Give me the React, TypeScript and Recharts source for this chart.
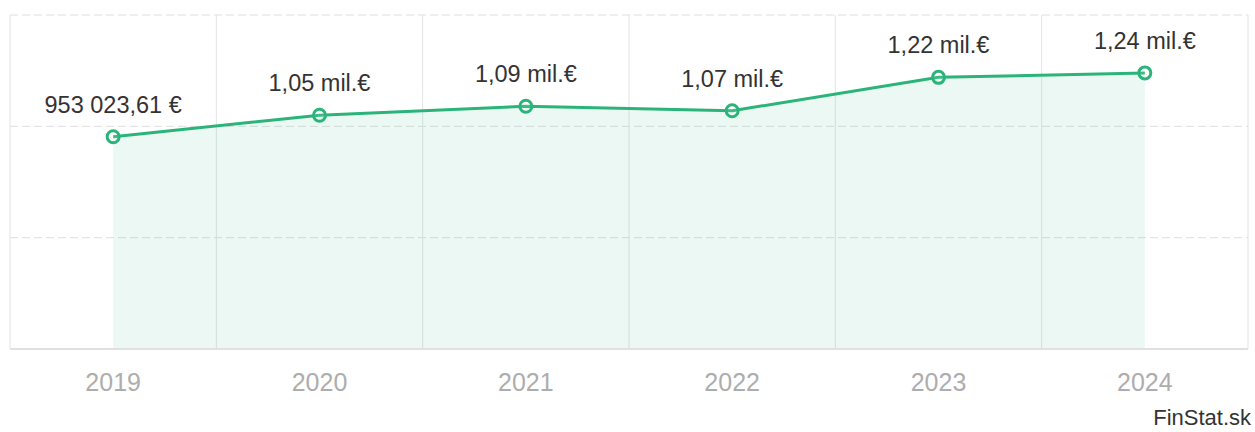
import { ComposedChart, Area, XAxis, YAxis, CartesianGrid, LabelList } from "recharts";

// Tržby podľa rokov (EUR)
const years = ["2019", "2020", "2021", "2022", "2023", "2024"];
const revenue = [953023.61, 1050000, 1090000, 1070000, 1220000, 1240000];
const yTicks = [0, 500000, 1000000, 1500000];

const GREEN = "#2bb47a";

const rows = years.map((year, i) => ({ year, value: revenue[i] }));

function formatEur(v: number) {
  if (v >= 1000000) {
    return (v / 1000000).toFixed(2).replace(".", ",") + " mil.€";
  }
  const [int, dec] = v.toFixed(2).split(".");
  const grouped = int.replace(/\B(?=(\d{3})+(?!\d))/g, " ");
  return grouped + "," + dec + " €";
}

// vertical lines on the band edges instead of the band centres
function bandEdges(props: any): number[] {
  const scale = props?.xAxis?.scale;
  if (scale) {
    const map = typeof scale === "function" ? scale : scale.map?.bind(scale);
    const bwFn = scale.bandwidth;
    if (map && typeof bwFn === "function") {
      const bw = bwFn.call(scale);
      const starts = years.map((y) => Number(map(y)));
      if (starts.every((s) => Number.isFinite(s))) {
        return [...starts, starts[starts.length - 1] + bw];
      }
    }
  }
  // fallback: split the plot width evenly into one band per year
  const off = props?.offset ?? {};
  const step = (off.width ?? 0) / years.length;
  return [...years.map((_, i) => off.left + i * step), off.left + off.width];
}

export default function App() {
  return (
    <div
      style={{
        position: "absolute",
        left: 0,
        top: 0,
        width: 1255,
        height: 432,
        background: "#fff",
        fontFamily: "'Liberation Sans', Arial, sans-serif",
      }}
    >
      <ComposedChart
        width={1255}
        height={432}
        data={rows}
        margin={{ top: 15, right: 7, bottom: 33, left: 10 }}
      >
        <CartesianGrid
          vertical={false}
          stroke="#dedede"
          strokeDasharray="8 4"
        />
        <CartesianGrid
          horizontal={false}
          verticalCoordinatesGenerator={bandEdges}
          stroke="#e3e3e3"
        />
        <XAxis
          dataKey="year"
          scale="band"
          axisLine={{ stroke: "#e0e0e0", strokeWidth: 2 }}
          tickLine={false}
          tickSize={0}
          tickMargin={24}
          height={50}
          tick={{ fill: "#adadad", fontSize: 25 }}
        />
        <YAxis domain={[0, 1500000]} ticks={yTicks} hide />
        <Area
          type="linear"
          dataKey="value"
          stroke={GREEN}
          strokeWidth={3}
          fill={GREEN}
          fillOpacity={0.09}
          dot={{ r: 6, fill: "#fff", stroke: GREEN, strokeWidth: 3 }}
          activeDot={false}
          isAnimationActive={false}
        >
          <LabelList
            dataKey="value"
            position="top"
            offset={24}
            formatter={(v: number) => formatEur(v)}
            fill="#333"
            fontSize={23.5}
          />
        </Area>
      </ComposedChart>
      <div
        style={{
          position: "absolute",
          right: 4,
          top: 405,
          fontSize: 22,
          color: "#333",
        }}
      >
        FinStat.sk
      </div>
    </div>
  );
}
